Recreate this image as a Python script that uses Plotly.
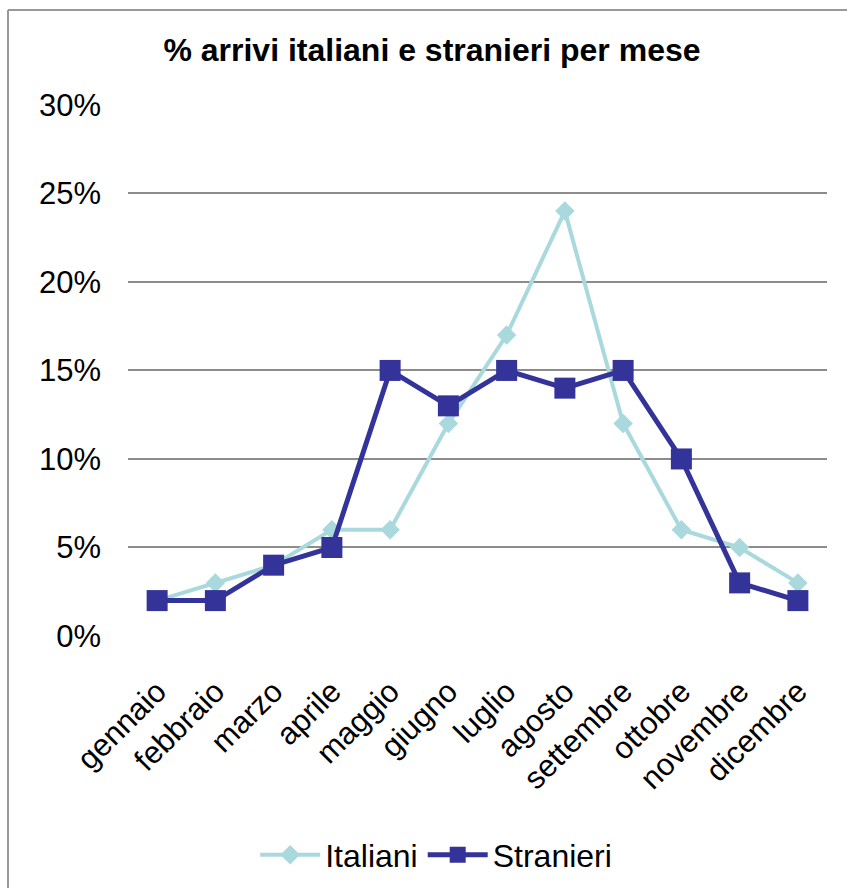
import plotly.graph_objects as go

mesi = ["gennaio", "febbraio", "marzo", "aprile", "maggio", "giugno",
        "luglio", "agosto", "settembre", "ottobre", "novembre", "dicembre"]
italiani = [2, 3, 4, 6, 6, 12, 17, 24, 12, 6, 5, 3]
stranieri = [2, 2, 4, 5, 15, 13, 15, 14, 15, 10, 3, 2]
y_ticks = [0, 5, 10, 15, 20, 25, 30]
y_labels = ["0%", "5%", "10%", "15%", "20%", "25%", "30%"]

W, H = 847, 888
L, R, T, B = 128, 20, 104, 252
pw, ph = W - L - R, H - T - B

fig = go.Figure()
fig.add_trace(go.Scatter(
    x=mesi, y=italiani, name="Italiani", mode="lines+markers",
    line=dict(color="#A9D9DD", width=4),
    marker=dict(symbol="diamond", size=15, color="#A9D9DD"),
))
fig.add_trace(go.Scatter(
    x=mesi, y=stranieri, name="Stranieri", mode="lines+markers",
    line=dict(color="#333399", width=5),
    marker=dict(symbol="square", size=21, color="#333399"),
))

def px_x(x):
    return (x - L) / pw

def px_y(y):
    return 1 - (y - T) / ph

fig.add_shape(type="line", xref="paper", yref="paper",
              x0=px_x(8), x1=px_x(W + 5), y0=px_y(10), y1=px_y(10),
              line=dict(color="#999999", width=2))
fig.add_shape(type="line", xref="paper", yref="paper",
              x0=px_x(8), x1=px_x(8), y0=px_y(10), y1=px_y(H + 5),
              line=dict(color="#999999", width=2))

fig.update_layout(
    width=W, height=H,
    margin=dict(l=L, r=R, t=T, b=B),
    paper_bgcolor="white", plot_bgcolor="white",
    font=dict(family="Liberation Sans, Arial, sans-serif", color="black"),
    title=dict(text="<b>% arrivi italiani e stranieri per mese</b>",
               x=0.51, xref="container", xanchor="center",
               y=1 - 50 / H, yref="container", yanchor="middle",
               font=dict(size=32)),
    xaxis=dict(showgrid=False, zeroline=False, showline=False,
               tickangle=-45, tickfont=dict(size=31), ticks="",
               ticklabelstandoff=30, range=[-0.5, 11.5]),
    yaxis=dict(range=[0, 30.05], tickvals=y_ticks, ticktext=y_labels,
               showgrid=True, gridcolor="#8c8c8c", gridwidth=1.5,
               zeroline=False, showline=False, tickfont=dict(size=31),
               ticks="", ticklabelstandoff=26),
    legend=dict(orientation="h", x=0.515, xref="container", xanchor="center",
                y=1 - 855 / H, yref="container", yanchor="middle",
                font=dict(size=32), itemwidth=60),
    showlegend=True,
)

fig.write_html("out.html")
